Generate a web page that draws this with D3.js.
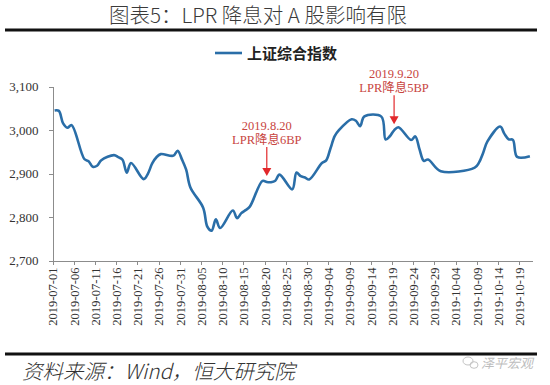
<!DOCTYPE html>
<html lang="zh">
<head>
	<meta charset="utf-8">
	<title>图表5：LPR 降息对 A 股影响有限</title>
	<style type="text/css">
		body {
			margin: 0;
			background: #fff;
		}
		.axis path,
		.axis line {
			stroke: #8c8c8c;
			shape-rendering: crispEdges;
		}
		.axis text {
			font-family: "Liberation Serif", "Times New Roman", serif;
			fill: #333;
		}
	</style>
</head>
<body>
	<div id="vis"></div>

	<script src="https://cdn.jsdelivr.net/npm/d3@7/dist/d3.min.js"></script>
	<script type="text/javascript">

		var w = 550;
		var h = 385;

		//Trading days and SSE Composite closes
		var dates = [
			"2019-07-01","2019-07-02","2019-07-03","2019-07-04","2019-07-05",
			"2019-07-08","2019-07-09","2019-07-10","2019-07-11","2019-07-12",
			"2019-07-15","2019-07-16","2019-07-17","2019-07-18","2019-07-19",
			"2019-07-22","2019-07-23","2019-07-24","2019-07-25","2019-07-26",
			"2019-07-29","2019-07-30","2019-07-31","2019-08-01","2019-08-02",
			"2019-08-05","2019-08-06","2019-08-07","2019-08-08","2019-08-09",
			"2019-08-12","2019-08-13","2019-08-14","2019-08-15","2019-08-16",
			"2019-08-19","2019-08-20","2019-08-21","2019-08-22","2019-08-23",
			"2019-08-26","2019-08-27","2019-08-28","2019-08-29","2019-08-30",
			"2019-09-02","2019-09-03","2019-09-04","2019-09-05","2019-09-06",
			"2019-09-09","2019-09-10","2019-09-11","2019-09-12","2019-09-16",
			"2019-09-17","2019-09-18","2019-09-19","2019-09-20","2019-09-23",
			"2019-09-24","2019-09-25","2019-09-26","2019-09-27","2019-09-30",
			"2019-10-08","2019-10-09","2019-10-10","2019-10-11","2019-10-14",
			"2019-10-15","2019-10-16","2019-10-17","2019-10-18","2019-10-21"
		];
		var closes = [
			3044.90, 3043.94, 3015.26, 3005.25, 3011.06,
			2933.36, 2928.23, 2915.30, 2917.76, 2930.55,
			2942.19, 2937.62, 2931.69, 2901.95, 2924.20,
			2886.97, 2899.94, 2923.28, 2937.36, 2944.54,
			2941.01, 2952.34, 2932.51, 2908.77, 2867.84,
			2821.50, 2777.56, 2768.68, 2794.55, 2774.75,
			2814.99, 2797.26, 2808.91, 2815.80, 2823.82,
			2883.10, 2880.33, 2880.00, 2883.44, 2897.43,
			2863.57, 2902.19, 2893.76, 2890.92, 2886.24,
			2924.11, 2930.15, 2957.41, 2985.86, 2999.60,
			3024.74, 3021.20, 3008.81, 3031.24, 3030.75,
			2978.12, 2985.66, 2999.28, 3006.45, 2977.08,
			2985.34, 2955.43, 2929.09, 2932.17, 2905.19,
			2913.57, 2924.86, 2947.71, 2973.66, 3007.88,
			2991.05, 2978.71, 2977.33, 2938.14, 2939.62
		];

		var xTickLabels = [
			"2019-07-01","2019-07-06","2019-07-11","2019-07-16","2019-07-21",
			"2019-07-26","2019-07-31","2019-08-05","2019-08-10","2019-08-15",
			"2019-08-20","2019-08-25","2019-08-30","2019-09-04","2019-09-09",
			"2019-09-14","2019-09-19","2019-09-24","2019-09-29","2019-10-04",
			"2019-10-09","2019-10-14","2019-10-19"
		];
		var yTicks = [2700, 2800, 2900, 3000, 3100];

		var seriesName = "上证综合指数";
		var annDates = ["2019-08-20", "2019-09-19"];
		var annLine1 = ["2019.8.20", "2019.9.20"];
		var annLine2 = ["LPR降息6BP", "LPR降息5BP"];

		var parseDate = d3.timeParse("%Y-%m-%d");
		var noon = function(s) { return d3.timeHour.offset(parseDate(s), 12); };

		var dataset = dates.map(function(d, i) {
			return { date: noon(d), value: closes[i] };
		});

		var lineColor = "#2a6ea8";
		var redText = "#c8463f";
		var redArrow = "#e2282b";

		var xScale = d3.scaleTime()
						.domain([parseDate("2019-07-01"), parseDate("2019-10-22")])
						.range([52.5, 532]);

		var yScale = d3.scaleLinear()
						.domain([2700, 3100])
						.range([260.5, 86.5]);

		//Create SVG element
		var svg = d3.select("#vis")
					.append("svg")
					.attr("width", w)
					.attr("height", h);

		svg.append("rect")
			.attr("width", w)
			.attr("height", h)
			.attr("fill", "#fff");

		//Title
		svg.append("text")
			.attr("x", 258)
			.attr("y", 23)
			.attr("text-anchor", "middle")
			.attr("font-family", "'Noto Sans CJK SC', sans-serif")
			.attr("font-size", "20.5px")
			.attr("font-weight", 300)
			.attr("fill", "#3a3a3a")
			.text("图表5：LPR 降息对 A 股影响有限");

		//Heavy rules top and bottom
		svg.append("line")
			.attr("x1", 5).attr("x2", 537)
			.attr("y1", 30).attr("y2", 30)
			.attr("stroke", "#111")
			.attr("stroke-width", 3);

		svg.append("line")
			.attr("x1", 5).attr("x2", 537)
			.attr("y1", 354).attr("y2", 354)
			.attr("stroke", "#111")
			.attr("stroke-width", 3);

		//Define X axis
		var xAxis = d3.axisBottom(xScale)
						.tickValues(xTickLabels.map(parseDate))
						.tickFormat(d3.timeFormat("%Y-%m-%d"))
						.tickSizeInner(4)
						.tickSizeOuter(0);

		//Define Y axis
		var yAxis = d3.axisLeft(yScale)
						.tickValues(yTicks)
						.tickFormat(d3.format(","))
						.tickSizeInner(4)
						.tickSizeOuter(0)
						.tickPadding(10);

		//Create X axis
		var gx = svg.append("g")
			.attr("class", "axis")
			.attr("transform", "translate(0,260.5)")
			.call(xAxis);

		gx.selectAll("text")
			.attr("font-size", "12.5px")
			.attr("text-anchor", "end")
			.attr("transform", "rotate(-90)")
			.attr("x", -7)
			.attr("y", 0)
			.attr("dy", "0.35em");

		//Create Y axis
		svg.append("g")
			.attr("class", "axis")
			.attr("transform", "translate(52.5,0)")
			.call(yAxis)
			.selectAll("text")
			.attr("font-size", "13px");

		//Create line
		var line = d3.line()
					.x(function(d) { return xScale(d.date); })
					.y(function(d) { return yScale(d.value); })
					.curve(d3.curveCatmullRom.alpha(0.5));

		svg.append("path")
			.datum(dataset)
			.attr("d", line)
			.attr("fill", "none")
			.attr("stroke", lineColor)
			.attr("stroke-width", 2.6)
			.attr("stroke-linejoin", "round");

		//Legend
		svg.append("line")
			.attr("x1", 215).attr("x2", 242)
			.attr("y1", 53).attr("y2", 53)
			.attr("stroke", lineColor)
			.attr("stroke-width", 2.6);

		svg.append("text")
			.attr("x", 247)
			.attr("y", 58.5)
			.attr("font-family", "'Noto Sans CJK SC', sans-serif")
			.attr("font-size", "15px")
			.attr("font-weight", "bold")
			.attr("fill", "#222")
			.text(seriesName);

		//Annotations with arrows
		annDates.forEach(function(s, i) {
			var d = noon(s);
			var v = closes[dates.indexOf(s)];
			var x = xScale(d);
			var tip = yScale(v) - 6;
			var tail = tip - 29;

			svg.append("line")
				.attr("x1", x).attr("x2", x)
				.attr("y1", tail).attr("y2", tip - 7)
				.attr("stroke", redArrow)
				.attr("stroke-width", 1.2);

			svg.append("path")
				.attr("d", "M" + (x - 4.5) + "," + (tip - 8) + "L" + (x + 4.5) + "," + (tip - 8) + "L" + x + "," + tip + "Z")
				.attr("fill", redArrow);

			svg.append("text")
				.attr("x", x)
				.attr("y", tail - 17)
				.attr("text-anchor", "middle")
				.attr("font-family", "'Liberation Serif', serif")
				.attr("font-size", "12.5px")
				.attr("fill", redText)
				.text(annLine1[i]);

			svg.append("text")
				.attr("x", x)
				.attr("y", tail - 3.5)
				.attr("text-anchor", "middle")
				.attr("font-family", "'Liberation Serif', 'Noto Sans CJK SC', serif")
				.attr("font-size", "12.5px")
				.attr("fill", redText)
				.text(annLine2[i]);
		});

		//Source note
		svg.append("text")
			.attr("x", 22)
			.attr("y", 379)
			.attr("font-family", "'Noto Sans CJK SC', sans-serif")
			.attr("font-style", "italic")
			.attr("font-weight", 300)
			.attr("font-size", "20.5px")
			.attr("fill", "#333")
			.text("资料来源：Wind，恒大研究院");

		//Watermark
		var wm = svg.append("g")
			.attr("fill", "none")
			.attr("stroke", "#c4c4c4")
			.attr("stroke-width", 1);
		wm.append("ellipse").attr("cx", 468).attr("cy", 361).attr("rx", 5).attr("ry", 4);
		wm.append("ellipse").attr("cx", 474).attr("cy", 365).attr("rx", 4).attr("ry", 3.3);

		svg.append("text")
			.attr("x", 481)
			.attr("y", 367.5)
			.attr("font-family", "'Noto Sans CJK SC', sans-serif")
			.attr("font-size", "13px")
			.attr("font-style", "italic")
			.attr("fill", "#bdbdbd")
			.text("泽平宏观");

	</script>
</body>
</html>
